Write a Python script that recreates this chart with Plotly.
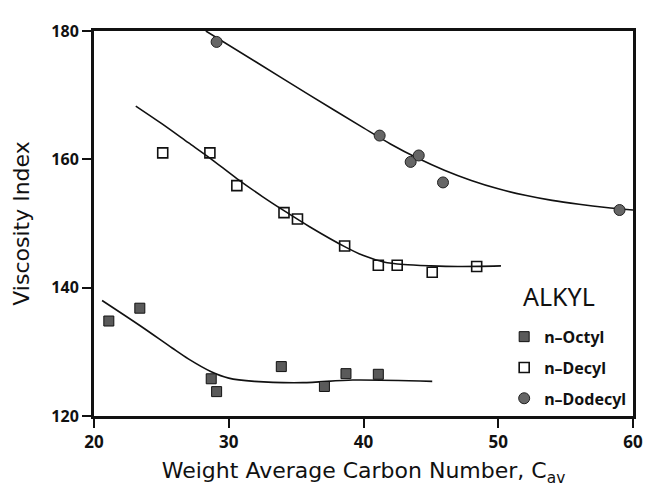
import plotly.graph_objects as go

# Measured data points
octyl_x = [21.1, 23.4, 28.7, 29.1, 33.9, 37.1, 38.7, 41.1]
octyl_y = [134.8, 136.8, 125.8, 123.8, 127.7, 124.6, 126.6, 126.5]

decyl_x = [25.1, 28.6, 30.6, 34.1, 35.1, 38.6, 41.1, 42.5, 45.1, 48.4]
decyl_y = [161.0, 161.0, 155.9, 151.7, 150.7, 146.5, 143.5, 143.5, 142.4, 143.3]

dodecyl_x = [29.1, 41.2, 43.5, 44.1, 45.9, 59.0]
dodecyl_y = [178.3, 163.7, 159.6, 160.6, 156.4, 152.1]

# Fitted curves
octyl_curve_x = [20.6, 23.4, 25.8, 27.0, 28.7, 30.0, 31.9, 35.5, 39.2, 45.1]
octyl_curve_y = [138.0, 134.1, 130.6, 128.9, 126.9, 125.9, 125.4, 125.2, 125.6, 125.4]

decyl_curve_x = [23.1, 25.0, 27.0, 28.6, 30.6, 32.5, 34.1, 36.0, 38.6, 40.0, 41.5, 43.0, 45.0, 47.0, 50.2]
decyl_curve_y = [168.3, 165.6, 162.6, 160.2, 157.0, 154.2, 152.0, 149.5, 146.4, 145.0, 144.0, 143.6, 143.4, 143.3, 143.4]

dodecyl_curve_x = [28.3, 32.0, 36.0, 40.0, 42.0, 44.0, 46.0, 48.0, 50.0, 52.0, 54.0, 56.0, 58.0, 60.0]
dodecyl_curve_y = [180.0, 175.2, 170.0, 164.9, 162.4, 160.2, 158.3, 156.7, 155.4, 154.4, 153.6, 153.0, 152.5, 152.1]

x_ticks = [20, 30, 40, 50, 60]
y_ticks = [120, 140, 160, 180]

TFONT = "DejaVu Sans"
NFONT = "Noto Sans"
INK = "#111111"

fig = go.Figure()

for cx, cy in [(octyl_curve_x, octyl_curve_y), (decyl_curve_x, decyl_curve_y),
               (dodecyl_curve_x, dodecyl_curve_y)]:
    fig.add_trace(go.Scatter(x=cx, y=cy, mode="lines", showlegend=False,
                             line=dict(color=INK, width=1.6, shape="spline", smoothing=0.8),
                             hoverinfo="skip"))

fig.add_trace(go.Scatter(x=octyl_x, y=octyl_y, mode="markers", name="n\u2013Octyl",
                         legendgroup="a",
                         marker=dict(symbol="square", size=10, color="#5a5a5a",
                                     line=dict(color=INK, width=1))))
fig.add_trace(go.Scatter(x=decyl_x, y=decyl_y, mode="markers", name="n\u2013Decyl",
                         legendgroup="b",
                         marker=dict(symbol="square-open", size=10, color=INK,
                                     line=dict(color=INK, width=1.6))))
fig.add_trace(go.Scatter(x=dodecyl_x, y=dodecyl_y, mode="markers", name="n\u2013Dodecyl",
                         legendgroup="c",
                         marker=dict(symbol="circle", size=11, color="#666666",
                                     line=dict(color="#222222", width=1))))

fig.add_annotation(text="ALKYL", xref="paper", yref="paper", x=0.862, y=0.312,
                   xanchor="center", yanchor="middle", showarrow=False,
                   font=dict(size=25, family=NFONT, color=INK))

fig.update_layout(
    width=647, height=484,
    margin=dict(l=85, r=13, t=13, b=67),
    paper_bgcolor="white", plot_bgcolor="white",
    font=dict(family=NFONT, color=INK),
    showlegend=True,
    legend=dict(
        x=0.761, y=0.25, xanchor="left", yanchor="top",
        bgcolor="rgba(0,0,0,0)",
        font=dict(size=16, family=NFONT, color=INK, weight="bold"),
        tracegroupgap=7,
        itemwidth=30,
    ),
    xaxis=dict(
        range=[20, 60], tickvals=x_ticks, ticktext=[str(v) for v in x_ticks],
        showgrid=False, zeroline=False,
        showline=True, linecolor=INK, linewidth=3, mirror=True,
        ticks="outside", ticklen=9, tickwidth=1.5, tickcolor=INK,
        tickfont=dict(size=17, family=NFONT, color=INK, weight="bold"),
        title=dict(text="Weight Average Carbon Number, C<sub>av</sub>",
                   font=dict(size=22, family=TFONT), standoff=11),
    ),
    yaxis=dict(
        range=[120, 180], tickvals=y_ticks, ticktext=[str(v) for v in y_ticks],
        showgrid=False, zeroline=False,
        showline=True, linecolor=INK, linewidth=3, mirror=True,
        ticks="outside", ticklen=9, tickwidth=1.5, tickcolor=INK,
        tickfont=dict(size=16, family=NFONT, color=INK, weight="bold"),
        title=dict(text="Viscosity Index", font=dict(size=22, family=TFONT), standoff=16),
    ),
)

fig.write_html("out.html")
